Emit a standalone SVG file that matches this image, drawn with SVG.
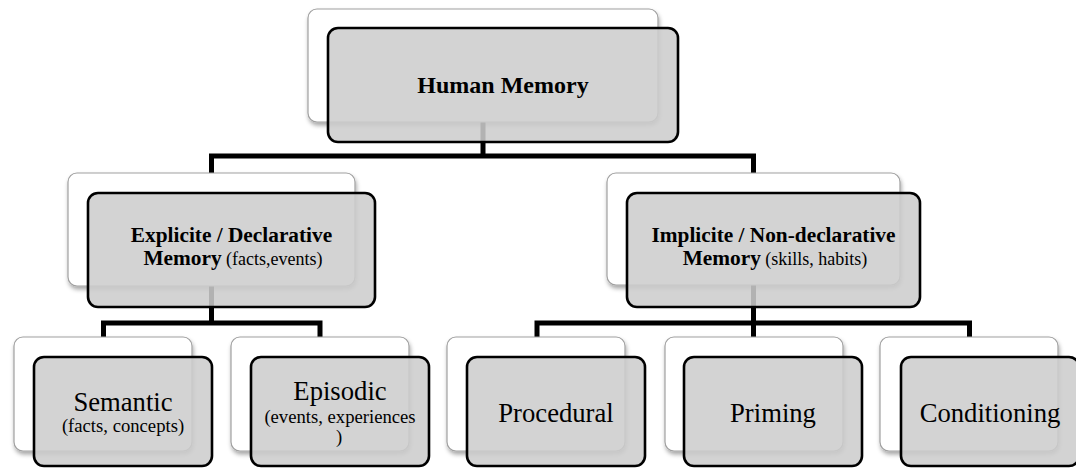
<svg xmlns="http://www.w3.org/2000/svg" width="1076" height="468" viewBox="0 0 1076 468">
<defs>
<filter id="sh" x="-10%" y="-10%" width="120%" height="130%">
<feDropShadow dx="1" dy="3" stdDeviation="2" flood-color="#000" flood-opacity="0.35"/>
</filter>
</defs>
<style>
.back{fill:#ffffff;stroke:#a0a0a0;stroke-width:1.2;filter:url(#sh)}
.front{fill:#cccccc;fill-opacity:0.87;stroke:#000;stroke-width:2.6}
.conn{fill:none;stroke:#000;stroke-width:5;stroke-linejoin:miter;stroke-linecap:butt}
.t{fill:#000;text-anchor:middle}
.b{font-weight:bold}
.big{font-size:26.67px}
.sub{font-size:18.67px}
</style>
<rect width="1076" height="468" fill="#fff"/>
<g id="connectors">
<path class="conn" d="M483,122 V156 M211.5,156 H753.5 M211.5,153.5 V175 M753.5,153.5 V175"/>
<path class="conn" d="M211.5,286 V323 M103.5,323 H320 M103.5,320.5 V339 M320,320.5 V339"/>
<path class="conn" d="M753.5,285 V323 M537,323 H969.5 M537,320.5 V339 M753.5,323 V339 M969.5,320.5 V339"/>
</g>
<g font-family="'Liberation Serif', 'Times New Roman', 'DejaVu Serif', serif">
<g id="human-memory">
<rect class="back" x="308" y="9" width="350" height="113" rx="9"/>
<rect class="front" x="328" y="28" width="350" height="114" rx="10"/>
<text class="t b" x="503" y="93" font-size="24">Human Memory</text>
</g>
<g id="explicit">
<rect class="back" x="68" y="173" width="287" height="113" rx="9"/>
<rect class="front" x="88" y="193" width="287" height="114" rx="10"/>
<text class="t b" x="231.5" y="242" font-size="21.33">Explicite / Declarative</text>
<text class="t" x="233" y="265"><tspan class="b" font-size="21.33">Memory</tspan><tspan font-size="18"> (facts,events)</tspan></text>
</g>
<g id="implicit">
<rect class="back" x="607" y="173" width="293" height="112" rx="9"/>
<rect class="front" x="627" y="193" width="293" height="114" rx="10"/>
<text class="t b" x="773.5" y="242" font-size="21.33">Implicite / Non-declarative</text>
<text class="t" x="775" y="265"><tspan class="b" font-size="21.33">Memory</tspan><tspan font-size="18"> (skills, habits)</tspan></text>
</g>
<g id="semantic">
<rect class="back" x="14" y="337" width="178" height="114" rx="9"/>
<rect class="front" x="34" y="357" width="178" height="109" rx="10"/>
<text class="t big" x="123" y="411">Semantic</text>
<text class="t sub" x="123" y="432">(facts, concepts)</text>
</g>
<g id="episodic">
<rect class="back" x="231" y="337" width="178" height="114" rx="9"/>
<rect class="front" x="251" y="357" width="178" height="109" rx="10"/>
<text class="t big" x="340" y="400">Episodic</text>
<text class="t sub" x="340" y="422.5">(events, experiences</text>
<text class="t sub" x="339" y="443">)</text>
</g>
<g id="procedural">
<rect class="back" x="447" y="337" width="178" height="114" rx="9"/>
<rect class="front" x="467" y="357" width="178" height="109" rx="10"/>
<text class="t big" x="556" y="422">Procedural</text>
</g>
<g id="priming">
<rect class="back" x="665" y="337" width="178" height="114" rx="9"/>
<rect class="front" x="684" y="357" width="178" height="109" rx="10"/>
<text class="t big" x="773" y="422">Priming</text>
</g>
<g id="conditioning">
<rect class="back" x="880" y="337" width="178" height="114" rx="9"/>
<rect class="front" x="901" y="357" width="178" height="109" rx="10"/>
<text class="t big" x="990" y="422">Conditioning</text>
</g>
</g>
</svg>
